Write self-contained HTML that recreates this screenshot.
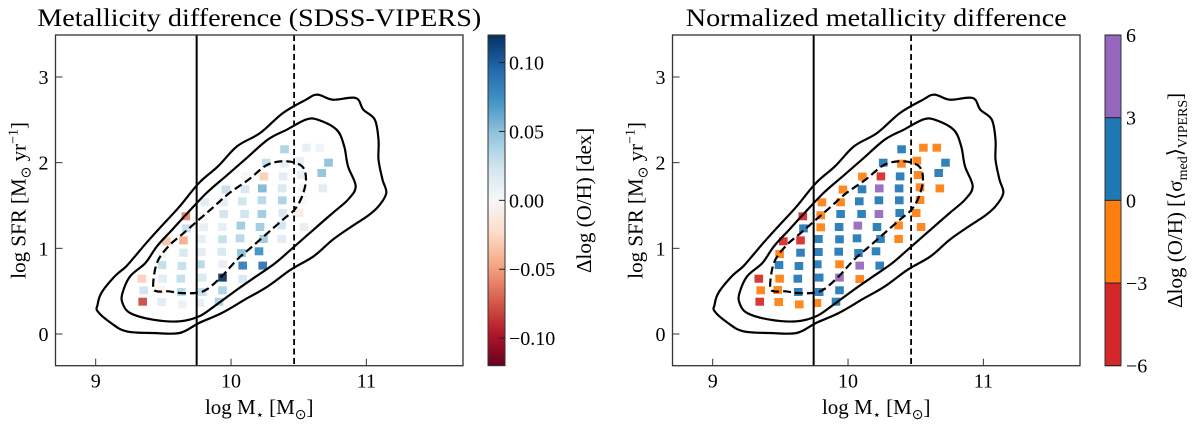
<!DOCTYPE html>
<html><head><meta charset="utf-8">
<style>
html,body{margin:0;padding:0;background:#fff;}
svg{display:block;font-family:"Liberation Serif",serif;}
</style></head>
<body>
<svg id="fig" width="1200" height="434" viewBox="0 0 1200 434" xmlns="http://www.w3.org/2000/svg"></svg>
<script>
// ---- data ----
const massBins = [10.396,10.557,10.656, 10.26,10.394,10.509,10.72, 10.106,10.243,10.385,10.518,10.67,
 9.962,10.103,10.231,10.377,10.532,10.678, 9.807,9.945,10.083,10.228,10.379,10.532,
 9.666,9.798,9.945,10.1,10.228,10.382,10.504, 9.671,9.798,9.934,10.072,10.214,10.374,10.54,
 9.522,9.649,9.781,9.937,10.066,10.24,10.374, 9.494,9.649,9.781,9.931,10.077,10.207,
 9.49,9.637,9.773,9.937,10.086,10.234, 9.341,9.494,9.629,9.787,9.937,10.086,
 9.355,9.48,9.632,9.787,9.937, 9.347,9.488,9.64,9.77,9.911];
const sfrBins = [2.156,2.175,2.175, 2.0,1.988,2.023,2.0, 1.837,1.84,1.84,1.856,1.879,
 1.685,1.689,1.7,1.7,1.712,1.7, 1.537,1.537,1.549,1.56,1.56,1.564,
 1.374,1.385,1.401,1.401,1.401,1.412,1.412, 1.233,1.245,1.249,1.265,1.249,1.268,1.249,
 1.082,1.093,1.109,1.105,1.117,1.109,1.109, 0.934,0.949,0.957,0.961,0.946,0.965,
 0.805,0.794,0.813,0.813,0.798,0.798, 0.646,0.646,0.646,0.658,0.658,0.642,
 0.51,0.514,0.49,0.49,0.51, 0.377,0.374,0.346,0.362,0.377];
const deltaOH = [0.04,0.01,0.005, 0.03,0.01,0.01,0.05, -0.002,-0.03,0.015,0.01,0.05,
 0.03,0.02,0.055,0.02,0.002,0.015, 0.015,0.012,0.025,0.035,0.04,0.0,
 -0.06,-0.001,0.025,0.025,0.045,0.02,-0.01, 0.03,0.01,0.012,0.045,0.045,0.025,0.01,
 -0.035,-0.045,0.012,0.03,0.035,0.045,0.015, -0.002,0.02,0.015,0.02,0.05,0.075,
 0.03,0.03,0.035,0.01,0.085,0.09, -0.03,0.015,0.03,0.02,0.12,0.02,
 0.025,-0.003,0.035,0.03,0.04, -0.08,0.015,0.008,0.012,0.04];
const normDelta = [1.5,-1.5,-1.5, 1.5,-1.5,-1.5,1.5, -1.5,-4.5,1.5,-1.5,1.5,
 -1.5,1.5,4.5,1.5,-1.5,-1.5, -1.5,-1.5,1.5,1.5,1.5,-1.5,
 -4.5,-1.5,1.5,1.5,4.5,1.5,-1.5, 1.5,-1.5,1.5,4.5,1.5,-1.5,-1.5,
 -4.5,-4.5,1.5,1.5,1.5,1.5,-1.5, -1.5,1.5,1.5,1.5,1.5,1.5,
 1.5,1.5,1.5,-1.5,4.5,1.5, -4.5,-1.5,1.5,1.5,4.5,-1.5,
 -1.5,-1.5,1.5,1.5,1.5, -4.5,-1.5,-1.5,-1.5,1.5];
const outerMass=[9.014,9.042,9.141,9.226,9.311,9.395,9.508,9.621,9.763,9.904,10.045,10.215,10.384,10.554,10.638,10.751,10.921,10.977,11.062,11.09,11.09,11.119,11.147,11.09,11.006,10.893,10.751,10.61,10.441,10.271,10.102,9.932,9.763,9.621,9.424,9.226,9.113,9.014];
const outerSfr=[0.342,0.479,0.673,0.79,0.946,1.101,1.296,1.49,1.763,1.957,2.191,2.346,2.58,2.735,2.794,2.735,2.755,2.619,2.502,2.268,2.035,1.802,1.646,1.49,1.374,1.257,1.101,0.907,0.751,0.556,0.401,0.245,0.128,0.012,0.012,0.031,0.128,0.265];
const midMass=[9.198,9.254,9.367,9.452,9.565,9.678,9.819,9.96,10.102,10.271,10.412,10.554,10.638,10.78,10.836,10.864,10.921,10.864,10.751,10.61,10.469,10.328,10.186,10.045,9.876,9.763,9.621,9.424,9.254,9.198];
const midSfr=[0.479,0.673,0.829,1.023,1.218,1.412,1.646,1.84,2.035,2.268,2.385,2.502,2.502,2.385,2.191,1.957,1.724,1.568,1.412,1.218,1.023,0.829,0.673,0.518,0.323,0.206,0.148,0.167,0.245,0.362];
const innerMass=[9.424,9.452,9.537,9.65,9.763,9.876,9.989,10.13,10.271,10.412,10.525,10.554,10.525,10.469,10.384,10.271,10.158,10.045,9.932,9.819,9.734,9.621,9.537,9.452];
const innerSfr=[0.556,0.829,1.023,1.179,1.335,1.49,1.646,1.802,1.977,2.016,1.957,1.802,1.607,1.451,1.335,1.179,1.023,0.868,0.673,0.518,0.479,0.479,0.498,0.498];
const xTicks=[9,10,11];
const yTicks=[0,1,2,3];
const cbTicksL=[0.10,0.05,0.00,-0.05,-0.10];
const cbTickLabelsL=["0.10","0.05","0.00","\u22120.05","\u22120.10"];
const cbTicksR=[6,3,0,-3,-6];
const cbTickLabelsR=["6","3","0","\u22123","\u22126"];
const vlineSolid=9.746, vlineDashed=10.466;

// ---- helpers ----
const NS="http://www.w3.org/2000/svg";
const svg=document.getElementById('fig');
function mk(tag,attrs,parent){const e=document.createElementNS(NS,tag);for(const k in attrs)e.setAttribute(k,attrs[k]);(parent||svg).appendChild(e);return e;}
const X0=8.703,X1=11.714,Y0=-0.37,Y1=3.49,PT=35,PB=365.7,PW=407.5;
function sx(off,v){return off+(v-X0)/(X1-X0)*PW;}
function sy(v){return PB-(v-Y0)/(Y1-Y0)*(PB-PT);}
const rdbu=["#67001f","#b2182b","#d6604d","#f4a582","#fddbc7","#f7f7f7","#d1e5f0","#92c5de","#4393c3","#2166ac","#053061"];
function hex(c){return [parseInt(c.substr(1,2),16),parseInt(c.substr(3,2),16),parseInt(c.substr(5,2),16)];}
function cmap(v){let t=(v+0.12)/0.24;t=Math.max(0,Math.min(1,t));const p=t*10,i=Math.min(9,Math.floor(p)),f=p-i;const a=hex(rdbu[i]),b=hex(rdbu[i+1]);return `rgb(${a.map((x,k)=>Math.round(x+(b[k]-x)*f)).join(',')})`;}
function disc(v){return v<-3?"#d62728":v<0?"#ff7f0e":v<3?"#1f77b4":"#9467bd";}
function smooth(off,ms,ss){const P=ms.map((m,i)=>[sx(off,m),sy(ss[i])]);const n=P.length;let d=`M${P[0][0].toFixed(1)},${P[0][1].toFixed(1)}`;
 for(let i=0;i<n;i++){const p0=P[(i-1+n)%n],p1=P[i],p2=P[(i+1)%n],p3=P[(i+2)%n];
 const c1=[p1[0]+(p2[0]-p0[0])/6,p1[1]+(p2[1]-p0[1])/6],c2=[p2[0]-(p3[0]-p1[0])/6,p2[1]-(p3[1]-p1[1])/6];
 d+=`C${c1[0].toFixed(1)},${c1[1].toFixed(1)} ${c2[0].toFixed(1)},${c2[1].toFixed(1)} ${p2[0].toFixed(1)},${p2[1].toFixed(1)}`;}return d+'Z';}

function panel(off,title,titleLen,vals,colorFn,prefix){
 const g=mk('g',{});
 
 
 vals.forEach((v,i)=>{const r=mk('rect',{x:(sx(off,massBins[i])-4.3).toFixed(1),y:(sy(sfrBins[i])-4).toFixed(1),width:8.6,height:8,fill:colorFn(v),opacity:0.92},g);
  
  });
 const c1=mk('path',{d:smooth(off,outerMass,outerSfr),fill:'none',stroke:'#000','stroke-width':2.2},g);
 
 
 const c2=mk('path',{d:smooth(off,midMass,midSfr),fill:'none',stroke:'#000','stroke-width':2.2},g);
 
 
 const c3=mk('path',{d:smooth(off,innerMass,innerSfr),fill:'none',stroke:'#000','stroke-width':2.2,'stroke-dasharray':'8,4'},g);
 
 
 const l1=mk('line',{x1:sx(off,vlineSolid),x2:sx(off,vlineSolid),y1:PT,y2:PB,stroke:'#000','stroke-width':2},g);
 
 
 const l2=mk('line',{x1:sx(off,vlineDashed),x2:sx(off,vlineDashed),y1:PT,y2:PB,stroke:'#000','stroke-width':1.8,'stroke-dasharray':'6,3.5'},g);
 
 
 const fr=mk('rect',{x:sx(off,X0),y:PT,width:PW,height:PB-PT,fill:'none',stroke:'#333','stroke-width':1.3},g);
 
 
 xTicks.forEach(t=>{const x=sx(off,t);mk('line',{x1:x,x2:x,y1:PB,y2:PB-7,stroke:'#333','stroke-width':1},g);
  const tx=mk('text',{x:x,y:PB+22,'font-size':20,'text-anchor':'middle'},g);tx.textContent=t;
  
  });
 yTicks.forEach(t=>{const y=sy(t);mk('line',{x1:sx(off,X0),x2:sx(off,X0)+7,y1:y,y2:y,stroke:'#333','stroke-width':1},g);
  const tx=mk('text',{x:sx(off,X0)-7,y:y+7,'font-size':20,'text-anchor':'end'},g);tx.textContent=t;
  
  });
 const tt=mk('text',{x:sx(off,X0)+PW/2,y:26,'font-size':25,'text-anchor':'middle',textLength:titleLen,lengthAdjust:'spacingAndGlyphs'},g);tt.textContent=title;
 
 
 const xl=mk('text',{x:sx(off,X0)+PW/2,y:414,'font-size':21,'text-anchor':'middle'},g);
 xl.innerHTML='log M<tspan font-size="13" dy="5">\u22c6</tspan><tspan dy="-5"> [M</tspan><tspan font-size="14" dy="5">\u2299</tspan><tspan dy="-5">]</tspan>';
 
 
 const yl=mk('text',{x:0,y:0,'font-size':21,'text-anchor':'middle',transform:`translate(${sx(off,X0)-30},${(PT+PB)/2}) rotate(-90)`},g);
 yl.innerHTML='log SFR [M<tspan font-size="14" dy="5">\u2299</tspan><tspan dy="-5"> yr</tspan><tspan font-size="14" dy="-8">\u22121</tspan><tspan dy="8">]</tspan>';
 
 
}
panel(55.5,"Metallicity difference (SDSS-VIPERS)",444,deltaOH,cmap,'left');
panel(672.5,"Normalized metallicity difference",381,normDelta,disc,'right');

// colorbar left
(function(){const cx=488,cw=17;const g=mk('g',{});
 
 
 const defs=mk('defs',{},g);const lg=mk('linearGradient',{id:'rdbuG',x1:0,y1:1,x2:0,y2:0},defs);
 for(let i=0;i<=20;i++){const v=-0.12+0.24*i/20;mk('stop',{offset:i/20,'stop-color':cmap(v)},lg);}
 mk('rect',{x:cx,y:PT,width:cw,height:PB-PT,fill:'url(#rdbuG)',stroke:'#333','stroke-width':1},g);
 cbTicksL.forEach((t,i)=>{const y=PB-(t+0.12)/0.24*(PB-PT);mk('line',{x1:cx+cw-6,x2:cx+cw,y1:y,y2:y,stroke:'#222'},g);
  const tx=mk('text',{x:cx+cw+4,y:y+7,'font-size':20},g);tx.textContent=cbTickLabelsL[i];
  
  });
 const lb=mk('text',{x:0,y:0,'font-size':21,'text-anchor':'middle',transform:`translate(591,${(PT+PB)/2}) rotate(-90)`},g);
 lb.textContent='\u0394log (O/H) [dex]';
 
 
})();
// colorbar right
(function(){const cx=1105,cw=16;const g=mk('g',{});
 
 
 const segs=[-6,-3,0,3];
 segs.forEach(s=>{const y1=PB-(s+3-(-6))/12*(PB-PT),y0=PB-(s-(-6))/12*(PB-PT);
  mk('rect',{x:cx,y:y1,width:cw,height:y0-y1,fill:disc(s+1.5)},g);});
 mk('rect',{x:cx,y:PT,width:cw,height:PB-PT,fill:'none',stroke:'#333','stroke-width':1},g);
 cbTicksR.forEach((t,i)=>{const y=PB-(t+6)/12*(PB-PT);mk('line',{x1:cx,x2:cx+cw,y1:y,y2:y,stroke:'#222'},g);
  const tx=mk('text',{x:cx+cw+5,y:y+7,'font-size':20},g);tx.textContent=cbTickLabelsR[i];
  
  });
 const lb=mk('text',{x:0,y:0,'font-size':21,'text-anchor':'middle',transform:`translate(1182,${(PT+PB)/2}) rotate(-90)`},g);
 lb.innerHTML='\u0394log (O/H) [\u27e8\u03c3<tspan font-size="14" dy="5">med</tspan><tspan dy="-5">\u27e9</tspan><tspan font-size="14" dy="5">VIPERS</tspan><tspan dy="-5">]</tspan>';
 
 
})();
</script>
</body></html>
